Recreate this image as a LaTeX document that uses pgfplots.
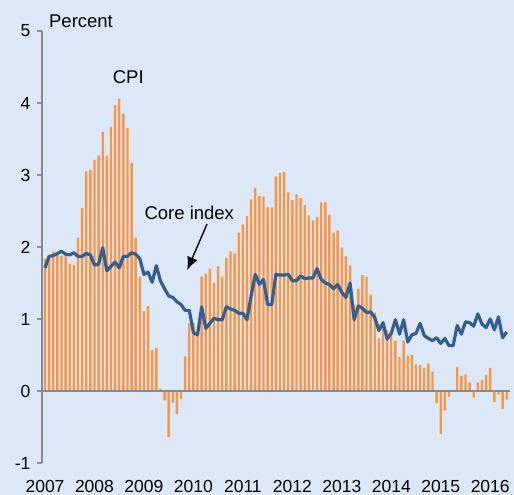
\documentclass[border=0pt]{standalone}
\usepackage{pgfplots}
\pgfplotsset{compat=1.18}
\usepackage{pgfplotstable}
\usetikzlibrary{arrows.meta}
\usepackage{fontspec}
\setmainfont{Liberation Sans}
\definecolor{bgc}{RGB}{220,232,247}
\definecolor{cpiorange}{RGB}{247,150,70}
\definecolor{coreblue}{RGB}{52,94,145}
\definecolor{axgray}{RGB}{137,137,137}
\pgfplotstableread{
i cpi core
0 1.84 1.71
1 1.88 1.87
2 1.94 1.88
3 1.92 1.91
4 1.88 1.94
5 1.87 1.90
6 1.77 1.89
7 1.75 1.92
8 2.13 1.87
9 2.54 1.87
10 3.05 1.91
11 3.07 1.89
12 3.21 1.75
13 3.27 1.76
14 3.60 1.99
15 3.27 1.67
16 3.67 1.73
17 3.97 1.79
18 4.06 1.71
19 3.85 1.87
20 3.65 1.87
21 3.17 1.92
22 2.13 1.90
23 1.59 1.84
24 1.11 1.62
25 1.18 1.65
26 0.57 1.51
27 0.60 1.74
28 0.03 1.53
29 -0.13 1.42
30 -0.64 1.32
31 -0.16 1.30
32 -0.32 1.24
33 -0.11 1.20
34 0.48 1.12
35 0.94 1.12
36 0.95 0.81
37 0.85 0.78
38 1.59 1.17
39 1.63 0.87
40 1.70 0.94
41 1.50 1.01
42 1.73 0.99
43 1.59 0.99
44 1.85 1.17
45 1.94 1.14
46 1.91 1.12
47 2.20 1.08
48 2.31 1.08
49 2.43 0.99
50 2.66 1.32
51 2.82 1.62
52 2.71 1.48
53 2.70 1.55
54 2.55 1.20
55 2.55 1.20
56 2.98 1.62
57 3.03 1.61
58 3.04 1.61
59 2.76 1.62
60 2.65 1.53
61 2.73 1.53
62 2.68 1.60
63 2.58 1.56
64 2.44 1.57
65 2.37 1.57
66 2.42 1.70
67 2.62 1.55
68 2.62 1.50
69 2.45 1.48
70 2.20 1.42
71 2.23 1.48
72 1.99 1.37
73 1.87 1.30
74 1.74 1.50
75 1.20 0.99
76 1.42 1.18
77 1.61 1.15
78 1.59 1.09
79 1.34 1.10
80 1.09 1.02
81 0.73 0.84
82 0.90 0.95
83 0.84 0.72
84 0.77 0.80
85 0.70 0.99
86 0.47 0.79
87 0.70 0.99
88 0.49 0.68
89 0.50 0.78
90 0.37 0.80
91 0.36 0.94
92 0.32 0.77
93 0.38 0.73
94 0.27 0.70
95 -0.17 0.74
96 -0.60 0.66
97 -0.27 0.73
98 -0.08 0.63
99 0.00 0.63
100 0.33 0.91
101 0.21 0.79
102 0.23 0.96
103 0.12 0.95
104 -0.09 0.90
105 0.12 1.07
106 0.15 0.93
107 0.22 0.88
108 0.32 1.00
109 -0.15 0.85
110 -0.05 1.03
111 -0.25 0.74
112 -0.12 0.82
}\data
\begin{document}
\begin{tikzpicture}
\fill[bgc] (-42pt,-32pt) rectangle (472pt,463pt);
\begin{axis}[
  scale only axis,
  width=468pt, height=432pt,
  xmin=-0.73, xmax=112.8,
  ymin=-1, ymax=5,
  axis y line*=left,
  axis x line*=bottom,
  x axis line style={draw=none},
  y axis line style={draw=axgray, line width=1.6pt},
  xtick={0,12,...,108},
  xticklabels={2007,2008,2009,2010,2011,2012,2013,2014,2015,2016},
  xtick style={draw=none},
  ytick={-1,0,...,5},
  ytick style={draw=axgray, line width=1.4pt},
  tick align=outside,
  major tick length=5pt,
  /pgf/number format/assume math mode=true,
  tick label style={font=\fontsize{17.5}{20}\selectfont, text=black},
  yticklabel style={xshift=-3pt},
  xticklabel style={yshift=-8.5pt},
  clip=false,
]
\addplot[ybar, bar width=2.4pt, fill=cpiorange, draw=none] table[x=i,y=cpi]{\data};
\draw[axgray, line width=1.6pt] (axis cs:-0.73,0) -- (axis cs:112.8,0);
\addplot[color=coreblue, line width=3.2pt, line join=round, mark=none] table[x=i,y=core]{\data};
\node[anchor=west, inner sep=0pt, font=\fontsize{18.5}{21}\selectfont] at (axis cs:0.95,5.13) {Percent};
\node[inner sep=0pt, font=\fontsize{18.5}{21}\selectfont] at (axis cs:20.2,4.36) {CPI};
\node[inner sep=0pt, font=\fontsize{18.5}{21}\selectfont] at (axis cs:35.0,2.47) {Core index};
\draw[-{Latex[length=13pt,width=11pt]}, line width=1.4pt] (axis cs:39.3,2.32) -- (axis cs:34.5,1.68);
\end{axis}
\pgfresetboundingbox
\path[use as bounding box] (-42pt,-32pt) rectangle (472pt,463pt);
\end{tikzpicture}
\end{document}
